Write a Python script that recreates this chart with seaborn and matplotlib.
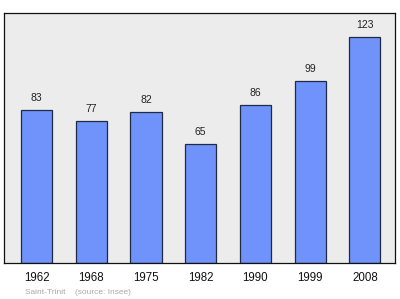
import matplotlib
matplotlib.use("Agg")
import matplotlib.pyplot as plt
import seaborn as sns
import pandas as pd

years = ["1962", "1968", "1975", "1982", "1990", "1999", "2008"]
population = [83, 77, 82, 65, 86, 99, 123]
caption = "Saint-Trinit    (source: Insee)"

sns.set_style("white")
plt.rcParams["font.family"] = ["Liberation Sans", "DejaVu Sans"]

df = pd.DataFrame({"year": years, "pop": population})

fig = plt.figure(figsize=(4.0, 2.99), dpi=100)
ax = fig.add_axes([0.01, 0.1204, 0.9775, 0.8361])
ax.set_facecolor("#ececec")

sns.barplot(data=df, x="year", y="pop", ax=ax, color="#6f93fb",
            saturation=1, width=0.57, edgecolor="#1f2a44", linewidth=0.9)

for i, v in enumerate(population):
    ax.text(i, v + 3.8, str(v), ha="center", va="bottom", fontsize=7.5, color="#222222")

ax.set_xlim(-0.594, 6.55)
ax.set_ylim(0, 136)
ax.set_yticks([])
ax.set_xlabel("")
ax.set_ylabel("")
ax.tick_params(axis="x", length=0, labelsize=8.3, pad=6.5, colors="#111111")
for s in ax.spines.values():
    s.set_color("#111111")
    s.set_linewidth(0.9)

fig.text(25 / 400, 1 - 292 / 299, caption, fontsize=6, color="#aaaaaa",
         ha="left", va="center")

fig.savefig("out.png", dpi=100)
